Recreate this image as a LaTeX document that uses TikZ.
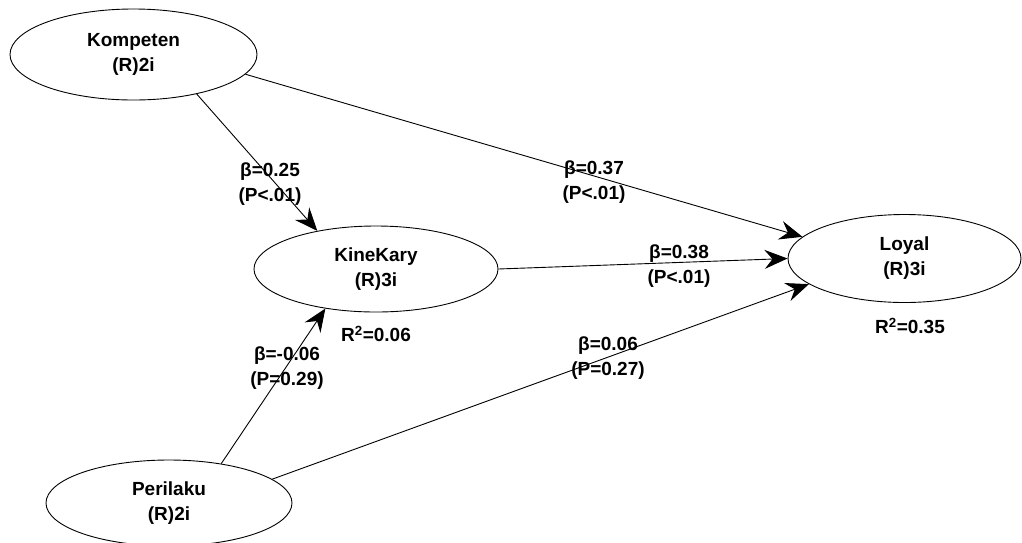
\documentclass[tikz,border=0pt]{standalone}
\usepackage{fontspec}
\setmainfont{Liberation Sans}
\usetikzlibrary{shapes.geometric,arrows.meta}
\begin{document}
\begin{tikzpicture}[x=1pt,y=-1pt,
  lv/.style={ellipse,draw,line width=0.9pt,inner sep=0pt,align=center,
    font=\fontsize{19}{25}\selectfont\bfseries},
  lbl/.style={align=center,inner sep=0pt,font=\fontsize{19}{25}\selectfont\bfseries},
  conn/.style={draw,line width=0.9pt,-{Stealth[length=23pt,width=19pt,inset=8pt]}}]
\useasboundingbox[fill=white] (0,0) rectangle (1022,542);
\node[lv,minimum width=247pt,minimum height=91pt] (komp) at (133.5,54.5) {Kompeten\\(R)2i};
\node[lv,minimum width=244pt,minimum height=86pt] (kine) at (376,269) {KineKary\\(R)3i};
\node[lv,minimum width=233pt,minimum height=88pt] (loyal) at (904.5,258.5) {Loyal\\(R)3i};
\node[lv,minimum width=246pt,minimum height=86pt] (peri) at (169,503) {Perilaku\\(R)2i};
\draw[conn] (komp.-32) -- (kine.147.4);
\draw[conn] (komp.-10.9) -- (loyal.168.6);
\draw[conn] (kine.0.5) -- (loyal.180);
\draw[conn] (peri.37.7) -- (kine.-142.6);
\draw[conn] (peri.13.3) -- (loyal.-165.8);
\node[lbl] (b1) at (270,184) {β=0.25\\(P<.01)};
\node[lbl] (b2) at (594,182) {β=0.37\\(P<.01)};
\node[lbl] (b3) at (679,266) {β=0.38\\(P<.01)};
\node[lbl] (b4) at (287,368.5) {β=-0.06\\(P=0.29)};
\node[lbl] (b5) at (608,358) {β=0.06\\(P=0.27)};
\node[lbl] (r1) at (376,334) {R\textsuperscript{2}=0.06};
\node[lbl] (r2) at (910,326) {R\textsuperscript{2}=0.35};
\end{tikzpicture}
\end{document}
